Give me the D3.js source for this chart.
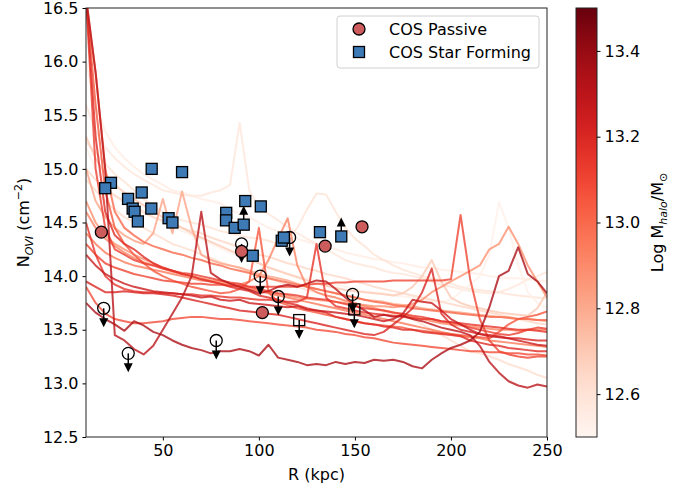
<!DOCTYPE html>
<html>
<head>
<meta charset="utf-8">
<script src="https://cdn.jsdelivr.net/npm/d3@7"></script>
<style>
body { margin:0; background:#fff; }
text { font-family:"DejaVu Sans", sans-serif; fill:#000; }
</style>
</head>
<body>
<div id="canvas"></div>
<script>
// --- radius grid (kpc) shared by all simulated profiles
var rGrid = [10,15,20,25,30,35,40,45,50,55,60,65,70,75,80,85,90,95,100,105,110,115,120,125,130,135,140,145,150,155,160,165,170,175,180,185,190,195,200,205,210,215,220,225,230,235,240,245,250];

// --- simulated N_OVI profiles, one per halo
var haloA = [13.75,13.66,13.60,13.55,13.49,13.58,13.54,13.48,13.45,13.40, 13.36,13.33,13.31,13.28,13.30,13.30,13.32,13.30,13.26,13.36, 13.24,13.22,13.20,13.17,13.18,13.17,13.20,13.18,13.20,13.19, 13.22,13.21,13.22,13.20,13.16,13.14,13.22,13.28,13.33,13.36, 13.40,13.48,13.71,14.00,14.05,14.27,14.02,13.95,13.84];
var haloB = [16.60,15.90,15.00,13.45,13.40,13.32,13.27,13.35,13.50,13.65, 13.80,14.00,14.60,14.03,13.97,13.93,13.90,13.87,13.84,13.86, 13.90,13.92,13.90,13.93,13.96,13.95,13.88,13.80,13.73,13.68, 13.62,13.64,13.62,13.63,13.60,13.58,13.55,13.52,13.50,13.48, 13.45,13.35,13.20,13.10,13.02,12.98,12.96,12.99,12.97];
var haloC = [14.20,14.10,14.02,13.97,13.93,13.90,13.88,13.86,13.85,13.84, 13.83,13.82,13.80,13.81,13.78,13.77,13.78,13.75,13.74,13.73, 13.72,13.71,13.72,13.69,13.68,13.67,13.66,13.65,13.64,13.62, 13.60,13.58,13.60,13.65,13.78,13.76,13.75,13.68,13.60,13.55, 13.50,13.46,13.44,13.43,13.42,13.40,13.38,13.36,13.35];
var haloD = [16.60,15.30,14.60,14.38,14.30,14.25,14.18,14.12,14.08,14.05, 14.02,14.00,13.97,13.95,13.93,13.90,13.88,13.86,13.82,13.80, 13.78,13.75,13.73,13.70,13.68,13.66,13.62,13.60,13.58,13.56, 13.55,13.53,13.52,13.50,13.50,13.48,13.47,13.46,13.45,13.44, 13.40,13.38,13.36,13.35,13.33,13.32,13.31,13.30,13.30];
var haloE = [16.60,15.00,14.45,14.25,14.20,14.15,14.12,14.10,14.07,14.05, 14.03,14.02,14.00,13.98,13.96,13.94,13.93,13.90,13.88,13.86, 13.84,13.83,13.82,13.80,13.79,13.78,13.76,13.74,13.72,13.70, 13.69,13.68,13.66,13.65,13.63,13.62,13.60,13.58,13.57,13.55, 13.52,13.50,13.48,13.46,13.45,13.47,13.50,13.52,13.51];
var haloF = [16.60,15.60,14.80,14.45,14.30,14.20,14.12,14.05,14.00,13.96, 13.93,13.90,13.88,13.86,13.84,13.85,13.88,13.95,14.45,13.85, 13.76,13.73,13.70,13.68,13.66,13.64,13.62,13.60,13.58,13.56, 13.55,13.54,13.53,13.52,13.50,13.49,13.48,13.47,13.46,13.45, 13.44,13.43,13.42,13.48,13.55,13.60,13.62,13.64,13.67];
var haloG = [14.50,14.20,14.00,13.92,13.88,13.86,13.85,13.85,13.84,13.84, 13.83,13.83,13.82,13.82,13.81,13.80,13.80,13.79,13.78,13.78, 13.77,13.76,13.76,13.80,14.30,13.80,13.72,13.70,13.68,13.66, 13.65,13.64,13.63,13.62,13.61,13.60,13.60,13.58,13.57,13.56, 13.55,13.54,13.53,13.52,13.51,13.50,13.50,13.49,13.48];
var haloH = [14.30,14.20,14.12,14.08,14.05,14.02,14.00,13.98,13.96,13.95, 13.94,13.93,13.93,13.92,13.92,13.91,13.91,13.90,13.90,13.90, 13.90,13.90,13.90,13.92,13.93,13.93,13.94,13.94,13.95,13.95, 13.95,13.95,13.96,13.96,13.96,13.96,13.96,13.96,13.97,14.57, 13.97,13.60,13.40,13.30,13.27,13.25,13.24,13.25,13.25];
var haloI = [13.95,13.90,13.85,13.85,13.86,13.85,13.84,13.84,13.83,13.82, 13.80,13.78,13.76,13.74,13.72,13.70,13.68,13.67,13.66,13.65, 13.64,13.62,13.60,13.58,13.56,13.54,13.52,13.50,13.48,13.46, 13.45,13.48,13.55,13.62,13.70,13.85,14.07,13.65,13.55,13.50, 13.48,13.46,13.45,13.44,13.42,13.42,13.41,13.40,13.40];
var haloJ = [13.90,13.75,13.65,13.60,13.58,13.56,13.56,13.57,13.58,13.60, 13.61,13.62,13.62,13.61,13.60,13.60,13.59,13.58,13.57,13.56, 13.55,13.54,13.53,13.52,13.50,13.49,13.48,13.46,13.45,13.43, 13.42,13.40,13.38,13.37,13.36,13.35,13.34,13.33,13.32,13.31, 13.30,13.30,13.29,13.29,13.28,13.28,13.27,13.27,13.26];
var haloK = [16.60,15.90,15.00,14.60,14.45,14.38,14.32,14.28,14.25,14.22, 14.20,14.17,14.15,14.12,14.10,14.07,14.05,14.03,14.00,13.98, 13.96,13.94,13.92,13.90,13.88,13.86,13.84,13.82,13.80,13.78, 13.76,13.75,13.73,13.72,13.70,13.69,13.68,13.67,13.66,13.65, 13.64,13.63,13.62,13.62,13.61,13.60,13.60,13.59,13.59];
var haloL = [15.00,14.70,14.55,14.45,14.38,14.33,14.30,14.40,14.72,14.40, 14.79,14.45,14.20,14.15,14.12,14.10,14.08,14.05,14.02,14.00, 13.98,13.96,13.93,13.90,13.88,13.86,13.84,13.82,13.80,13.78, 13.77,13.76,13.74,13.73,13.72,13.70,13.69,13.68,13.67,13.66, 13.65,13.64,13.63,13.62,13.62,13.60,13.60,13.59,13.58];
var haloM = [14.70,14.50,14.38,14.30,14.25,14.20,14.16,14.12,14.08,14.05, 14.02,14.00,13.97,13.95,13.93,13.91,13.90,13.88,13.86,13.85, 13.83,13.82,13.80,13.79,13.78,13.77,13.76,13.75,13.74,13.73, 13.72,13.72,13.71,13.72,13.74,13.78,13.85,13.90,13.95,14.00, 14.05,14.10,14.25,14.30,14.46,14.30,14.10,13.95,13.80];
var haloN = [14.60,14.45,14.35,14.28,14.22,14.17,14.13,14.10,14.07,14.04, 14.02,14.00,13.98,13.96,13.95,13.93,13.92,13.95,14.00,14.15, 14.35,14.54,14.10,13.90,13.85,13.82,13.80,13.77,13.75,13.72, 13.70,13.68,13.66,13.64,13.62,13.60,13.58,13.56,13.55,13.54, 13.53,13.52,13.51,13.50,13.50,13.49,13.50,13.50,13.50];
var haloO = [14.40,14.30,14.22,14.17,14.13,14.10,14.08,14.06,14.04,14.02, 14.00,13.98,13.96,13.95,13.93,13.92,13.90,13.88,13.86,13.84, 13.82,13.80,13.78,13.76,13.74,13.72,13.70,13.68,13.66,13.64, 13.62,13.60,13.58,13.56,13.54,13.52,13.50,13.48,13.46,13.44, 13.43,13.42,13.40,13.39,13.38,13.37,13.36,13.35,13.34];
var haloP = [16.00,15.60,15.35,15.20,15.10,15.02,14.95,14.90,14.85,14.80, 14.78,14.75,14.72,14.70,14.68,14.62,14.58,14.55,14.50,14.45, 14.42,14.38,14.35,14.32,14.30,14.28,14.25,14.22,14.20,14.18, 14.16,14.15,14.13,14.12,14.10,14.08,14.08,14.06,14.05,14.04, 14.03,14.02,14.00,13.99,13.98,13.98,13.97,13.96,13.95];
var haloQ = [15.60,15.35,15.20,15.10,15.02,14.95,14.90,14.85,14.80,14.78, 14.76,14.75,14.75,14.78,14.80,14.85,15.43,14.80,14.65,14.58, 14.52,14.46,14.40,14.35,14.30,14.25,14.20,14.15,14.12,14.10, 14.08,14.05,14.03,14.02,14.00,13.98,13.95,13.92,13.90,13.88, 13.86,13.85,13.84,13.85,13.88,13.92,13.97,14.00,14.04];
var haloR = [15.25,15.15,15.05,14.95,14.88,14.80,14.72,14.65,14.60,14.56, 14.52,14.50,14.48,14.45,14.42,14.40,14.38,14.36,14.35,14.33, 14.30,14.35,14.45,14.62,14.77,14.76,14.60,14.45,14.35,14.28, 14.20,14.15,14.10,14.06,14.03,14.00,13.98,13.96,13.93,13.90, 13.88,13.87,13.86,13.85,13.83,13.82,13.81,13.80,13.79];
var haloS = [15.20,15.00,14.85,14.75,14.68,14.62,14.58,14.55,14.50,14.46, 14.42,14.38,14.35,14.30,14.26,14.22,14.18,14.15,14.12,14.08, 14.05,14.02,14.00,13.98,13.95,13.93,13.92,13.90,13.88,13.86, 13.85,13.84,13.82,13.81,13.80,13.78,13.77,13.76,13.78,13.85, 13.92,14.00,14.20,14.69,14.45,14.10,13.85,13.75,13.70];
var haloT = [15.00,14.90,14.82,14.75,14.70,14.65,14.60,14.55,14.52,14.48, 14.45,14.42,14.40,14.36,14.33,14.30,14.27,14.24,14.20,14.18, 14.15,14.12,14.10,14.07,14.05,14.02,14.00,13.98,13.95,13.93, 13.90,13.88,13.86,13.84,13.82,13.80,13.78,13.76,13.74,13.72, 13.70,13.68,13.66,13.64,13.62,13.60,13.58,13.56,13.55];
var haloU = [14.90,14.80,14.70,14.62,14.55,14.50,14.45,14.40,14.35,14.30, 14.27,14.24,14.20,14.17,14.13,14.10,14.07,14.04,14.01,13.98, 13.95,13.92,13.90,13.87,13.85,13.82,13.80,13.77,13.75,13.72, 13.70,13.67,13.65,13.62,13.60,13.55,13.50,13.45,13.40,13.35, 13.30,13.28,13.25,13.22,13.18,13.15,13.12,13.08,13.05];
var haloV = [15.30,15.10,14.95,14.85,14.78,14.72,14.66,14.60,14.55,14.50, 14.45,14.40,14.36,14.32,14.28,14.24,14.20,14.16,14.12,14.08, 14.05,14.02,13.99,13.96,13.93,13.91,13.89,13.87,13.86,13.85, 13.84,13.83,13.82,13.84,13.90,14.00,14.15,13.95,13.80,13.75, 13.72,13.70,13.68,13.66,13.65,13.64,13.63,13.70,13.85];

var haloProfiles = [haloP,haloQ,haloR,haloS,haloT,haloU,haloV,haloL,haloM,haloN,haloO,haloK,haloF,haloJ,haloH,haloE,haloG,haloD,haloI,haloC,haloB,haloA];
var haloMass     = [12.55,12.58,12.60,12.53,12.65,12.62,12.70,12.82,12.88,12.92,12.95,13.00,13.05,13.08,13.10,13.12,13.15,13.18,13.20,13.25,13.30,13.35];

// --- COS-Halos detections
var passiveR = [18, 91, 101.8, 134.5, 153.7];
var passiveN = [14.41, 14.23, 13.66, 14.28, 14.46];
var sfR = [44.2, 60, 23, 20, 31.9, 39, 34.3, 35.3, 44, 37, 53, 55, 83, 82.9, 87.4, 92.9, 101, 92.1, 96.8, 111.9, 113, 131.8, 142.9];
var sfN = [15.00, 14.97, 14.87, 14.82, 14.72, 14.78, 14.63, 14.60, 14.63, 14.51, 14.54, 14.50, 14.59, 14.52, 14.45, 14.70, 14.65, 14.48, 14.19, 14.33, 14.36, 14.41, 14.37];
// lower limits (saturated) among star forming
var lowR = [92.1, 142.9];
var lowN = [14.48, 14.37];
// upper limits
var upCircR = [19.2, 32, 77.8, 91, 100.7, 110.1, 116, 148.8];
var upCircN = [13.70, 13.28, 13.40, 14.30, 14.00, 13.81, 14.36, 13.83];
var upSqR = [121, 149.7];
var upSqN = [13.59, 13.69];

var xTicks = [50, 100, 150, 200, 250];
var yTicks = [12.5, 13.0, 13.5, 14.0, 14.5, 15.0, 15.5, 16.0, 16.5];
var cTicks = [12.6, 12.8, 13.0, 13.2, 13.4];

// --- Margin convention
var W = 694, H = 487;
var M = {top:8, right:147, bottom:50, left:86};
var w = W - M.left - M.right,
    h = H - M.top - M.bottom;

var svg = d3.select('#canvas').append('svg')
  .attr('width', W).attr('height', H);

var plot = svg.append('g')
  .attr('transform', 'translate(' + M.left + ',' + M.top + ')');

var x = d3.scaleLinear().domain([10, 250]).range([0, w]);
var y = d3.scaleLinear().domain([12.5, 16.5]).range([h, 0]);
var massScale = d3.scaleLinear().domain([12.5, 13.5]).range([0, 1]);
function massColor(m){ return d3.interpolateReds(massScale(m)); }

svg.append('defs').append('clipPath').attr('id', 'clip')
  .append('rect').attr('width', w).attr('height', h);

// --- simulated profiles
var line = d3.line()
  .x(function(d, i){ return x(rGrid[i]); })
  .y(function(d){ return y(d); });

var lines = plot.append('g').attr('clip-path', 'url(#clip)');
haloProfiles.forEach(function(p, k){
  lines.append('path')
    .attr('d', line(p))
    .attr('fill', 'none')
    .attr('stroke', massColor(haloMass[k]))
    .attr('stroke-width', 2)
    .attr('stroke-opacity', 0.8)
    .attr('stroke-linejoin', 'round');
});

// --- limit arrows
var marks = plot.append('g');
function arrow(cx, cy, dir){
  // dir = 1 down, -1 up
  marks.append('line')
    .attr('x1', cx).attr('x2', cx)
    .attr('y1', cy).attr('y2', cy + dir * 12)
    .attr('stroke', '#000').attr('stroke-width', 1.5);
  marks.append('path')
    .attr('d', 'M' + (cx - 4.5) + ',' + (cy + dir * 10) + 'L' + (cx + 4.5) + ',' + (cy + dir * 10) + 'L' + cx + ',' + (cy + dir * 19) + 'Z')
    .attr('fill', '#000');
}

upCircR.forEach(function(r, i){ arrow(x(r), y(upCircN[i]), 1); });
upSqR.forEach(function(r, i){ arrow(x(r), y(upSqN[i]), 1); });
lowR.forEach(function(r, i){ arrow(x(r), y(lowN[i]), -1); });

upCircR.forEach(function(r, i){
  marks.append('circle')
    .attr('cx', x(r)).attr('cy', y(upCircN[i])).attr('r', 6)
    .attr('fill', 'none').attr('stroke', '#000').attr('stroke-width', 1.3);
});
upSqR.forEach(function(r, i){
  marks.append('rect')
    .attr('x', x(r) - 5.5).attr('y', y(upSqN[i]) - 5.5)
    .attr('width', 11).attr('height', 11)
    .attr('fill', 'none').attr('stroke', '#000').attr('stroke-width', 1.3);
});

var sfColor = '#3e7ab5', passColor = '#cd5c5c';
sfR.forEach(function(r, i){
  marks.append('rect')
    .attr('x', x(r) - 5.5).attr('y', y(sfN[i]) - 5.5)
    .attr('width', 11).attr('height', 11)
    .attr('fill', sfColor).attr('stroke', '#000').attr('stroke-width', 1.3);
});
passiveR.forEach(function(r, i){
  marks.append('circle')
    .attr('cx', x(r)).attr('cy', y(passiveN[i])).attr('r', 6)
    .attr('fill', passColor).attr('stroke', '#000').attr('stroke-width', 1.3);
});

// --- axes
var xAxis = plot.append('g')
  .attr('transform', 'translate(0,' + h + ')')
  .call(d3.axisBottom(x).tickValues(xTicks).tickSize(3.5).tickPadding(4));
var yAxis = plot.append('g')
  .call(d3.axisLeft(y).tickValues(yTicks).tickFormat(d3.format('.1f')).tickSize(3.5).tickPadding(4));
[xAxis, yAxis].forEach(function(a){
  a.select('.domain').remove();
  a.selectAll('text').style('font-size', '16px').attr('fill', '#000');
  a.selectAll('line').attr('stroke', '#000');
});

plot.append('rect')
  .attr('width', w).attr('height', h)
  .attr('fill', 'none').attr('stroke', '#222').attr('stroke-width', 1);

svg.append('text')
  .attr('x', M.left + w / 2).attr('y', 480)
  .attr('text-anchor', 'middle').style('font-size', '16px')
  .text('R (kpc)');

var yl = svg.append('text')
  .attr('transform', 'translate(29,' + (M.top + h / 2) + ') rotate(-90)')
  .attr('text-anchor', 'middle').style('font-size', '16px');
yl.append('tspan').text('N');
yl.append('tspan').attr('dy', 4).style('font-size', '11px').style('font-style', 'italic').text('OVI');
yl.append('tspan').attr('dy', -4).text(' (cm');
yl.append('tspan').attr('dy', -7).style('font-size', '11px').text('\u22122');
yl.append('tspan').attr('dy', 7).text(')');

// --- legend
var leg = svg.append('g');
leg.append('rect')
  .attr('x', 337).attr('y', 16).attr('width', 202).attr('height', 52).attr('rx', 3)
  .attr('fill', '#fff').attr('fill-opacity', 0.8).attr('stroke', '#d0d0d0');
leg.append('circle').attr('cx', 359).attr('cy', 29).attr('r', 6)
  .attr('fill', passColor).attr('stroke', '#000').attr('stroke-width', 1.3);
leg.append('rect').attr('x', 353.5).attr('y', 46.5).attr('width', 11).attr('height', 11)
  .attr('fill', sfColor).attr('stroke', '#000').attr('stroke-width', 1.3);
leg.append('text').attr('x', 389).attr('y', 35).style('font-size', '16px').text('COS Passive');
leg.append('text').attr('x', 389).attr('y', 58).style('font-size', '16px').text('COS Star Forming');

// --- colorbar
var cbX = 576, cbW = 21;
var cY = d3.scaleLinear().domain([12.5, 13.5]).range([M.top + h, M.top]);
var grad = svg.select('defs').append('linearGradient')
  .attr('id', 'cbgrad').attr('x1', 0).attr('x2', 0).attr('y1', 1).attr('y2', 0);
d3.range(0, 1.0001, 0.05).forEach(function(t){
  grad.append('stop').attr('offset', t).attr('stop-color', d3.interpolateReds(t));
});
svg.append('rect')
  .attr('x', cbX).attr('y', M.top).attr('width', cbW).attr('height', h)
  .attr('fill', 'url(#cbgrad)').attr('stroke', '#222').attr('stroke-width', 1);
var cAxis = svg.append('g')
  .attr('transform', 'translate(' + (cbX + cbW) + ',0)')
  .call(d3.axisRight(cY).tickValues(cTicks).tickFormat(d3.format('.1f')).tickSize(3.5).tickPadding(4));
cAxis.select('.domain').remove();
cAxis.selectAll('text').style('font-size', '16px').attr('fill', '#000');
cAxis.selectAll('line').attr('stroke', '#000');

var cl = svg.append('text')
  .attr('transform', 'translate(663,' + (M.top + h / 2) + ') rotate(-90)')
  .attr('text-anchor', 'middle').style('font-size', '16px');
cl.append('tspan').text('Log M');
cl.append('tspan').attr('dy', 4).style('font-size', '11px').style('font-style', 'italic').text('halo');
cl.append('tspan').attr('dy', -4).text('/M');
cl.append('tspan').attr('dy', 4).style('font-size', '11px').text('\u2299');
</script>
</body>
</html>
